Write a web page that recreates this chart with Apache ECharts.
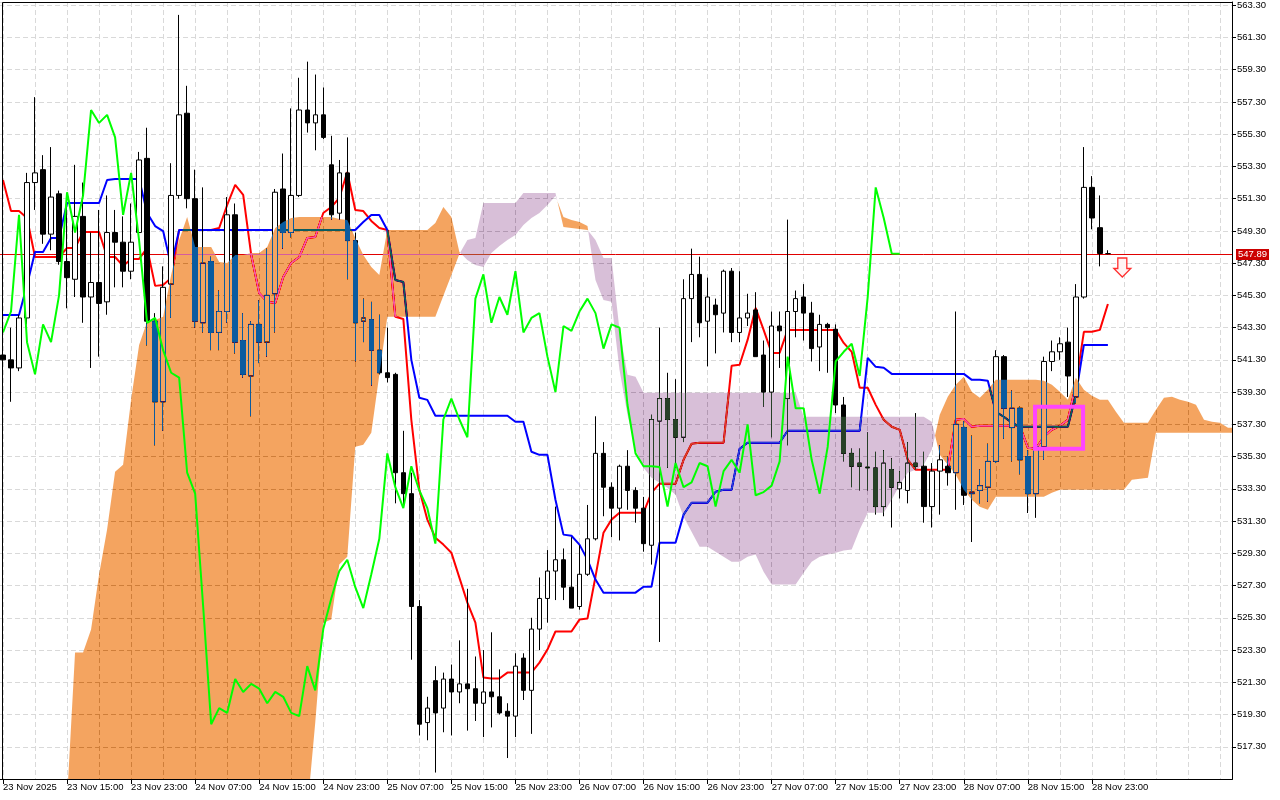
<!DOCTYPE html>
<html><head><meta charset="utf-8">
<script src="https://cdn.jsdelivr.net/npm/echarts@6/dist/echarts.min.js"></script>
<style>html,body{margin:0;padding:0;background:#fff}#c{width:1280px;height:800px}</style>
</head><body><div id="c"></div>
<script>
const xTickLabels = ["23 Nov 2025","23 Nov 15:00","23 Nov 23:00","24 Nov 07:00","24 Nov 15:00","24 Nov 23:00","25 Nov 07:00","25 Nov 15:00","25 Nov 23:00","26 Nov 07:00","26 Nov 15:00","26 Nov 23:00","27 Nov 07:00","27 Nov 15:00","27 Nov 23:00","28 Nov 07:00","28 Nov 15:00","28 Nov 23:00"];

const openP = [541.6,541.3,540.8,543.9,552.3,553.1,549.1,551.6,547.4,546.3,
550.2,545.2,546.1,544.9,549.2,548.6,546.8,549.2,553.8,543.7,
538.7,546.0,551.5,556.6,551.3,543.6,547.4,543.0,544.3,550.3,
542.5,540.3,543.5,542.4,545.4,551.9,549.2,551.5,556.8,556.0,
556.5,553.4,550.4,552.9,548.7,543.7,543.8,541.9,540.5,540.4,
534.3,533.0,526.0,518.8,521.4,519.7,521.5,520.7,521.2,520.9,
520.0,520.7,520.4,519.5,519.2,522.8,520.8,524.6,526.5,528.2,
528.9,527.2,526.0,528.0,530.2,535.5,533.4,532.1,534.7,533.2,
532.1,529.8,537.5,538.9,537.6,536.5,545.1,546.6,543.7,544.7,
544.2,546.8,543.0,543.9,544.4,541.6,539.3,543.4,538.9,544.3,
545.2,544.2,542.1,543.5,543.2,538.5,535.5,534.9,534.6,534.6,
532.2,534.5,533.3,533.2,534.9,534.7,532.2,534.4,534.7,534.3,
537.1,533.0,533.2,533.4,535.0,541.5,537.1,538.3,535.3,533.0,
535.9,541.2,541.8,542.4,539.0,545.2,552.0,549.5,547.89];

const closeP = [541.3,540.8,543.9,552.3,552.9,549.1,551.4,547.4,546.4,550.2,
545.2,546.1,544.8,549.2,548.6,546.8,548.6,553.7,543.7,538.7,
545.8,551.5,556.5,551.3,543.7,547.3,543.0,544.3,550.3,542.4,
540.4,543.5,542.4,545.3,551.7,549.2,551.5,556.8,556.0,556.5,
555.1,550.3,552.9,548.7,543.6,543.9,541.9,540.5,540.2,534.3,
533.0,526.0,518.7,519.7,519.4,521.5,520.7,521.2,520.9,520.0,
520.7,520.4,519.4,519.2,522.3,520.8,524.6,526.5,528.2,528.9,
527.2,525.9,528.0,530.2,535.5,533.4,532.1,534.7,533.2,532.1,
529.9,537.6,538.9,537.6,536.5,545.1,546.6,543.6,545.2,544.1,
546.8,543.0,543.9,544.2,541.5,539.3,543.4,543.1,544.3,545.1,
544.2,542.0,543.5,543.3,538.5,535.5,534.7,534.7,534.65,532.2,
534.9,533.4,533.7,534.9,534.7,532.2,534.4,535.1,534.3,537.3,
532.9,533.1,533.5,535.0,541.5,538.3,538.3,535.1,533.0,535.9,
541.2,541.8,542.3,540.3,545.2,552.0,550.1,547.9,547.89];

const lowP = [540.9,538.7,540.6,543.5,550.6,548.5,548.1,547.2,544.5,545.2,
543.6,540.8,541.5,544.1,545.8,545.8,546.3,548.9,542.2,536.0,
536.9,543.9,551.3,550.7,543.3,543.0,541.9,541.9,543.6,541.7,
540.2,537.8,541.1,541.5,543.0,548.2,548.9,551.4,555.4,554.3,
555.0,550.0,550.0,546.3,541.2,542.4,539.7,540.4,539.9,532.4,
532.2,522.7,518.0,517.7,515.7,518.2,518.0,520.0,518.3,518.9,
517.9,518.5,519.3,516.6,517.9,520.2,518.1,523.3,525.0,526.4,
526.4,525.9,525.8,527.9,530.1,531.6,530.3,530.1,532.0,531.2,
529.4,528.6,523.8,534.6,534.6,536.2,542.4,542.7,540.9,541.7,
543.0,542.4,542.4,543.4,541.5,538.4,536.5,540.8,536.0,542.7,
542.5,541.2,540.6,540.5,538.0,535.0,533.4,533.2,533.2,531.7,
531.6,530.9,532.7,532.4,534.5,531.2,530.9,531.7,533.5,532.0,
532.3,530.0,532.4,532.5,534.9,536.4,535.0,534.2,531.8,531.5,
535.1,540.6,541.3,539.0,538.6,545.1,549.4,547.1,547.85];

const highP = [542.0,543.3,544.1,552.9,557.6,554.0,554.5,551.8,551.2,553.4,
552.3,549.2,550.6,551.5,550.6,550.2,551.0,554.2,555.7,544.2,
547.1,553.5,562.7,558.3,553.1,552.0,547.7,545.6,551.4,551.0,
544.2,543.7,545.0,548.2,551.9,554.1,556.9,558.8,559.8,559.0,
558.2,555.2,553.7,555.1,549.2,545.1,544.9,544.1,543.3,540.5,
536.9,534.3,526.4,520.4,522.3,521.9,522.4,523.9,527.1,522.9,
523.3,524.4,522.1,520.0,523.1,523.1,525.3,527.8,529.5,532.2,
529.6,530.3,529.8,532.3,537.8,536.2,533.7,534.8,535.7,533.4,
532.8,537.9,543.3,540.5,540.1,546.3,548.2,547.7,546.4,545.1,
546.9,547.0,546.8,545.4,545.5,542.5,544.3,544.3,550.0,545.6,
546.0,544.9,544.1,543.6,543.5,539.0,535.8,535.8,536.8,535.6,
535.7,535.2,534.4,536.2,538.0,535.6,534.9,536.0,535.3,544.3,
537.5,536.6,534.5,536.1,541.9,541.6,539.4,538.4,535.7,536.1,
541.5,542.5,542.7,543.3,546.0,554.5,552.7,551.5,548.1];

const tenkan = [552.46,550.53,550.53,550.10,547.68,547.68,547.68,547.68,548.24,548.24,
549.23,549.23,549.23,547.68,547.68,547.13,547.56,547.56,548.24,545.89,
545.95,546.38,549.36,549.36,549.36,549.36,549.36,549.48,550.91,552.15,
551.53,547.81,545.45,544.90,544.83,546.44,547.31,547.68,548.86,548.92,
550.41,550.78,551.34,552.95,550.60,550.53,549.92,549.48,549.36,543.97,
543.84,537.58,533.24,531.39,530.27,529.84,529.34,527.79,526.24,525.00,
521.60,521.53,521.53,521.90,521.90,521.90,521.90,522.52,523.33,524.45,
524.45,524.45,525.19,525.25,527.85,530.58,531.39,531.82,531.82,531.82,
531.82,533.06,533.62,533.62,533.62,535.10,536.10,536.16,536.16,536.16,
536.16,540.93,541.00,542.54,544.52,543.16,541.73,541.73,543.16,543.16,
543.16,543.16,543.16,543.16,543.16,542.35,541.80,539.57,539.57,538.51,
537.58,537.15,536.96,535.10,534.48,534.48,534.48,534.48,534.48,537.58,
537.64,537.15,537.21,537.21,537.21,537.21,537.21,537.21,535.85,535.79,
536.53,536.96,537.21,537.58,539.75,543.04,543.04,543.16,544.77];

const kijun = [544.09,544.09,544.09,545.95,547.99,547.99,548.86,548.86,551.03,551.03,
551.03,551.03,551.03,552.46,552.52,552.52,552.52,552.52,550.41,549.60,
549.29,547.13,549.36,549.36,549.36,549.36,549.36,549.36,549.36,549.36,
549.36,549.36,549.36,549.36,549.36,549.36,549.36,549.36,549.36,549.36,
549.36,549.36,549.36,549.36,549.36,549.85,550.29,550.29,549.36,546.26,
546.13,541.30,538.95,538.82,537.83,537.83,537.83,537.83,537.83,537.83,
537.83,537.83,537.83,537.83,537.46,537.46,535.60,535.41,535.41,532.62,
530.46,530.39,529.84,528.91,527.67,526.86,526.86,526.86,526.86,526.86,
527.23,527.23,529.96,529.96,529.96,531.70,532.44,532.44,532.44,533.12,
533.24,533.24,535.79,536.16,536.16,536.16,536.16,536.16,536.90,536.90,
536.90,536.90,536.90,536.90,536.90,536.90,536.90,536.90,541.42,540.87,
540.81,540.43,540.43,540.43,540.43,540.43,540.43,540.43,540.43,540.43,
540.43,540.06,540.06,540.00,538.08,537.77,537.40,537.15,537.15,537.15,
537.15,537.15,537.15,537.15,539.13,542.23,542.23,542.23,542.23];

const spanA = [513.0,513.0,513.0,513.0,513.0,513.0,513.0,513.0,514.03,523.14,
523.14,524.57,527.98,530.77,534.36,534.79,538.82,542.23,543.66,543.78,
543.97,546.57,548.74,550.16,548.30,548.30,548.30,547.37,547.31,547.81,
547.81,547.93,547.93,548.30,549.48,549.85,550.10,550.16,550.16,550.16,
550.16,550.16,550.04,549.98,548.86,547.81,547.06,546.57,549.36,549.36,
549.36,549.36,549.36,549.36,549.79,550.78,550.16,547.99,547.50,547.19,
547.06,547.93,548.37,548.74,549.05,549.67,550.10,550.41,550.91,551.46,
550.16,549.98,549.85,549.60,546.26,545.02,544.90,540.68,537.89,535.72,
534.61,533.99,533.68,533.37,532.93,531.57,530.64,529.71,529.71,529.40,
529.09,528.78,528.78,529.09,529.22,528.16,527.36,527.36,527.36,527.36,
528.10,528.78,529.09,529.22,529.34,529.47,529.53,530.77,531.82,531.82,
531.82,532.62,533.55,534.30,534.48,534.79,535.72,537.89,539.01,539.75,
540.25,539.32,538.95,539.44,540.06,540.06,540.06,540.06,540.06,540.06,
540.00,539.75,539.32,538.82,540.19,539.44,539.07,538.82,538.82,538.08,
537.40,537.40,537.40,537.40,538.20,538.95,539.01,538.82,538.70,538.51,
537.58,537.46,537.40,537.09];

const spanB = [512.5,512.5,512.5,512.5,512.5,512.5,512.5,512.5,512.5,512.5,
512.5,512.5,512.5,512.5,512.5,512.5,512.5,512.5,512.5,512.5,
512.5,512.5,512.5,512.5,512.5,512.5,512.5,512.5,512.5,512.5,
512.5,512.5,512.5,512.5,512.5,512.5,512.5,512.5,513.35,518.81,
525.00,525.19,528.60,529.09,535.91,536.03,536.78,540.37,543.97,543.97,
543.97,543.97,543.97,543.97,543.97,545.27,546.57,547.87,548.74,548.86,
551.03,551.03,551.03,551.03,551.03,551.65,551.65,551.65,551.65,551.65,
549.54,549.48,549.42,549.36,548.74,547.62,547.62,543.16,540.37,540.25,
539.26,539.26,539.26,539.26,539.26,539.26,539.26,539.26,539.26,539.26,
539.26,539.26,539.26,539.26,539.26,539.26,539.26,539.26,539.26,539.26,
537.77,537.77,537.77,537.77,537.77,537.77,537.77,537.77,537.77,537.77,
537.77,537.77,537.77,537.77,537.77,537.77,537.46,535.41,534.79,534.17,
533.24,532.62,532.19,532.00,532.81,532.81,532.81,532.81,532.81,532.81,
532.81,533.06,533.24,533.24,533.24,533.24,533.24,533.24,533.24,533.24,
533.24,533.86,533.92,533.99,536.78,536.78,536.78,536.78,536.78,536.78,
536.78,536.78,536.78,536.78];

const lastPrice = 547.89;
const zoneBars = [128.9, 134.9];
const zonePrices = [538.39, 535.79];
const arrowBar = 139.8;
const arrowPrice = 547.03;

const FONT = 'Liberation Sans';
const cats = spanA.map((_, i) => String(i));
const candleData = openP.map((o, i) => [o, closeP[i], lowP[i], highP[i]]);
const chikou = closeP.slice(26);
// inverse colours: painted in 'difference' mode over white they show SandyBrown / Thistle
const CLOUD_UP = '#0b5b9f';
const CLOUD_DN = '#274027';

function pt(api, bar, price) {
  const i0 = Math.floor(bar), f = bar - i0;
  const a = api.coord([i0, price]), b = api.coord([i0 + 1, price]);
  return [a[0] + f * (b[0] - a[0]), a[1]];
}

function renderCloud(params, api) {
  if (params.dataIndex !== 0) return;
  const half = api.size([1, 0])[0] / 2;
  const P = spanA.map((a, i) => ({ d: a - spanB[i], A: api.coord([i, a]), B: api.coord([i, spanB[i]]) }));
  const children = [];
  let up = [], lo = [], sign = null;
  const flush = () => {
    if (up.length > 1) children.push({
      type: 'polygon',
      shape: { points: up.concat(lo.slice().reverse()) },
      style: { fill: sign > 0 ? CLOUD_UP : CLOUD_DN, blend: 'difference' }
    });
  };
  P.forEach((p, i) => {
    const s = p.d >= 0 ? 1 : -1;
    if (sign === null) { sign = s; up.push(p.A); lo.push(p.B); return; }
    if (s !== sign) {
      const q = P[i - 1];
      const t = q.d / (q.d - p.d);
      const X = [q.A[0] + t * (p.A[0] - q.A[0]), q.A[1] + t * (p.A[1] - q.A[1])];
      up.push(X); lo.push(X); flush();
      up = [X]; lo = [X]; sign = s;
    }
    up.push(p.A); lo.push(p.B);
  });
  const last = P[P.length - 1];
  up.push([last.A[0] + half, last.A[1]]);
  lo.push([last.B[0] + half, last.B[1]]);
  flush();
  return { type: 'group', children };
}

function renderPrice(params, api) {
  const cs = params.coordSys;
  const y = Math.round(api.coord([0, lastPrice])[1]) + 0.5;
  const right = cs.x + cs.width;
  return { type: 'group', children: [
    { type: 'line', shape: { x1: cs.x, y1: y, x2: right, y2: y }, style: { stroke: '#e00000', lineWidth: 1 } },
    { type: 'rect', z2: 10, shape: { x: right + 4, y: y - 5.5, width: 33, height: 11 }, style: { fill: '#cc0000' } },
    { type: 'text', z2: 11, style: { text: lastPrice.toFixed(2), x: right + 6, y: y, verticalAlign: 'middle', align: 'left',
      fill: '#ffffff', font: '9.5px "Liberation Sans"' } }
  ] };
}

function renderZone(params, api) {
  const p0 = pt(api, zoneBars[0], zonePrices[0]);
  const p1 = pt(api, zoneBars[1], zonePrices[1]);
  return { type: 'rect', shape: { x: p0[0], y: p0[1], width: p1[0] - p0[0], height: p1[1] - p0[1] },
    style: { fill: 'none', stroke: '#ff44ff', lineWidth: 4 } };
}

function renderArrow(params, api) {
  const c = pt(api, arrowBar, arrowPrice);
  const x = c[0], y = c[1];
  const pts = [[x - 4.5, y - 9.5], [x + 4.5, y - 9.5], [x + 4.5, y + 1], [x + 8.5, y + 1], [x, y + 9.5], [x - 8.5, y + 1], [x - 4.5, y + 1]];
  return { type: 'polygon', shape: { points: pts }, style: { fill: '#fff4f4', stroke: '#ff2e2e', lineWidth: 1.3 } };
}

const chart = echarts.init(document.getElementById('c'), null, { renderer: 'canvas', width: 1280, height: 800, devicePixelRatio: 1 });

const gridLine = { color: '#d9d9d9', width: 1, type: [5, 3] };

chart.setOption({
  backgroundColor: '#ffffff',
  animation: false,
  grid: { left: -1, right: 48, top: 2, bottom: 21, containLabel: false, outerBoundsMode: 'none' },
  xAxis: {
    type: 'category', data: cats, boundaryGap: true,
    axisLine: { show: true, lineStyle: { color: '#000', width: 1 } },
    axisTick: { show: true, alignWithLabel: true, length: 5, lineStyle: { color: '#000' },
      interval: (i) => i % 8 === 0 && i / 8 < xTickLabels.length },
    axisLabel: { show: true, interval: (i) => i % 8 === 0 && i / 8 < xTickLabels.length,
      formatter: (v, i) => (i % 8 === 0 && i / 8 < xTickLabels.length) ? xTickLabels[i / 8] : '',
      color: '#000', fontFamily: FONT, fontSize: 9.5, align: 'left', margin: 3 },
    splitLine: { show: true, alignWithLabel: true, interval: (i) => i % 4 === 0, lineStyle: gridLine }
  },
  yAxis: {
    type: 'value', position: 'right', min: 515.3, max: 563.5, interval: 2, scale: true,
    axisLine: { show: true, lineStyle: { color: '#000', width: 1 } },
    axisTick: { show: true, length: 4, lineStyle: { color: '#000' } },
    axisLabel: { formatter: (v) => v.toFixed(2), color: '#000', fontFamily: FONT, fontSize: 9.5, margin: 5,
      showMinLabel: false, showMaxLabel: false },
    splitLine: { show: true, lineStyle: gridLine }
  },
  graphic: [{ type: 'rect', silent: true, z: 100,
    shape: { x: 2.5, y: 2.5, width: 1230, height: 777 },
    style: { fill: 'none', stroke: '#000', lineWidth: 1 } }],
  series: [
    { type: 'custom', data: [[0, lastPrice]], renderItem: renderPrice, clip: false, z: 1, silent: true },
    { type: 'candlestick', data: candleData, barWidth: 5, z: 2, silent: true,
      itemStyle: { color: '#ffffff', color0: '#000000', borderColor: '#000000', borderColor0: '#000000', borderColorDoji: '#000000', borderWidth: 1 } },
    { type: 'line', data: tenkan, symbol: 'none', z: 2, silent: true, lineStyle: { color: '#ff0000', width: 2 } },
    { type: 'line', data: kijun, symbol: 'none', z: 2, silent: true, lineStyle: { color: '#0000ff', width: 2 } },
    { type: 'custom', data: [[0, spanA[0]]], renderItem: renderCloud, clip: true, z: 3, silent: true },
    { type: 'line', data: chikou, symbol: 'none', z: 4, silent: true, lineStyle: { color: '#00ff00', width: 2 } },
    { type: 'custom', data: [[zoneBars[0], zonePrices[0]]], renderItem: renderZone, z: 5, silent: true },
    { type: 'custom', data: [[arrowBar, arrowPrice]], renderItem: renderArrow, z: 5, silent: true }
  ]
});

// make the cloud polygons paint in 'difference' mode (MT-style inverted overlay)
function applyBlend() {
  const zr = chart.getZr();
  const list = zr.storage.getDisplayList(true);
  let n = 0;
  list.forEach((el) => {
    const f = el.style && el.style.fill;
    if (f === CLOUD_UP || f === CLOUD_DN) {
      if (el.style.blend !== 'difference') { el.style.blend = 'difference'; el.markRedraw(); n++; }
    }
  });
  if (n) zr.refreshImmediately();
}
applyBlend();
chart.on('finished', applyBlend);
</script>
</body></html>
